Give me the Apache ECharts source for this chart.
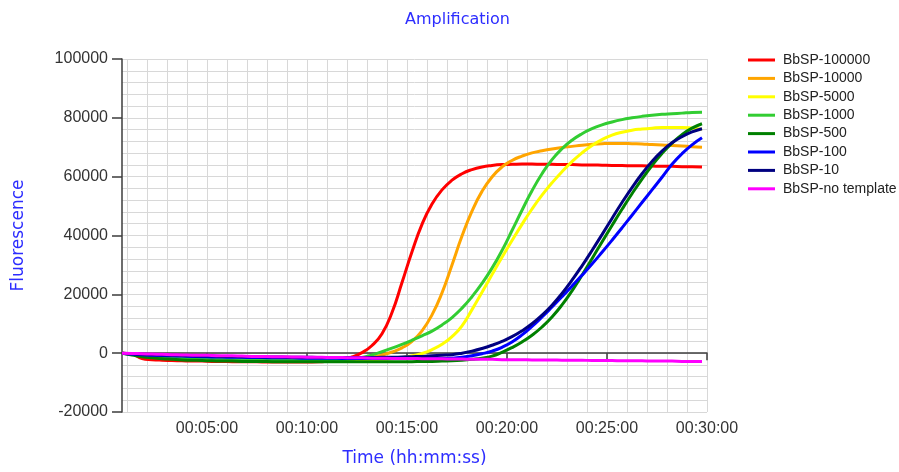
<!DOCTYPE html>
<html lang="en">
<head>
    <meta charset="UTF-8">
    <title>Amplification</title>
    <script src="https://cdn.jsdelivr.net/npm/echarts@6/dist/echarts.min.js"></script>
    <style>
        body { margin: 0; background: #fff; }
    </style>
</head>
<body>
    <div id="main" style="width:899px; height:472px;"></div>
    <script>
        // time of each reading, seconds
        var times = [45, 75, 105, 135, 165, 195, 225, 255, 285, 315, 345, 375, 405, 435, 465, 495, 525, 555, 585, 615,
            645, 675, 705, 735, 765, 795, 825, 855, 885, 915, 945, 975, 1005, 1035, 1065, 1095, 1125, 1155, 1185, 1215,
            1245, 1275, 1305, 1335, 1365, 1395, 1425, 1455, 1485, 1515, 1545, 1575, 1605, 1635, 1665, 1695, 1725, 1755, 1785];

        var names = ['BbSP-100000', 'BbSP-10000', 'BbSP-5000', 'BbSP-1000', 'BbSP-500', 'BbSP-100', 'BbSP-10', 'BbSP-no template'];
        var colors = ['#ff0000', '#ffa500', '#ffff00', '#32cd32', '#008000', '#0000ff', '#000080', '#ff00ff'];

        var s100000 = [0, -300, -1800, -2200, -2400, -2500, -2600, -2700, -2700, -2800, -2800, -2900, -2900, -2900, -3000, -3000,
            -3000, -3000, -3000, -3000, -2900, -2700, -2300, -1300, 200, 2600, 6600, 13800, 24000, 34500, 43800, 50700, 55500,
            58800, 61000, 62400, 63300, 63800, 64100, 64200, 64300, 64300, 64200, 64200, 64100, 64100, 64000, 64000, 63900,
            63800, 63800, 63700, 63700, 63600, 63500, 63500, 63400, 63400, 63300];
        var s10000 = [0, -400, -800, -1100, -1400, -1600, -1800, -1900, -2000, -2100, -2200, -2200, -2300, -2300, -2400, -2400,
            -2500, -2500, -2500, -2500, -2500, -2500, -2400, -2300, -2000, -1400, -600, 400, 1800, 4000, 7600, 13000, 20500,
            30000, 39800, 48300, 55000, 59900, 63300, 65500, 67000, 68100, 68800, 69400, 69900, 70300, 70700, 71000, 71200,
            71300, 71300, 71200, 71100, 70900, 70800, 70600, 70400, 70200, 70000];
        var s5000 = [0, -300, -600, -900, -1100, -1300, -1500, -1600, -1700, -1800, -1900, -2000, -2000, -2100, -2100, -2200,
            -2200, -2200, -2300, -2300, -2300, -2300, -2300, -2300, -2300, -2200, -2100, -1900, -1500, -900, -100, 1200, 3000,
            5600, 9300, 14800, 20700, 26700, 32600, 38300, 43800, 49000, 53700, 57900, 61700, 65100, 68100, 70600, 72600,
            74100, 75100, 75800, 76200, 76500, 76700, 76700, 76700, 76500, 76100];
        var s1000 = [0, -300, -600, -900, -1100, -1300, -1500, -1600, -1700, -1800, -1900, -2000, -2000, -2100, -2100, -2200,
            -2200, -2200, -2300, -2300, -2300, -2300, -2200, -2000, -1500, -600, 500, 1700, 3000, 4400, 5900, 7500, 9600,
            12100, 15300, 19200, 23700, 28900, 34900, 41700, 48600, 55200, 61000, 65800, 69500, 72400, 74600, 76300, 77600,
            78600, 79400, 80000, 80500, 80900, 81200, 81400, 81600, 81800, 81900];
        var s500 = [0, -600, -1200, -1600, -1900, -2100, -2300, -2400, -2500, -2600, -2700, -2700, -2800, -2800, -2800, -2900,
            -2900, -2900, -2900, -2900, -2900, -2900, -2900, -2900, -2900, -2900, -2900, -2900, -2900, -2900, -2800, -2800, -2700,
            -2600, -2400, -2100, -1700, -1000, 300, 1900, 3800, 6100, 8900, 12300, 16400, 21200, 26500, 32100, 37800,
            43400, 48900, 54200, 59200, 63800, 67900, 71400, 74300, 76500, 78000];
        var s100 = [0, -300, -500, -700, -800, -900, -1000, -1100, -1200, -1300, -1300, -1400, -1400, -1500, -1500, -1600,
            -1600, -1600, -1700, -1700, -1700, -1700, -1800, -1800, -1800, -1800, -1800, -1800, -1800, -1800, -1800, -1800, -1800,
            -1700, -1400, -900, -200, 700, 2000, 3800, 6200, 9100, 12300, 15700, 19200, 22800, 26500, 30300, 34300,
            38400, 42600, 46900, 51200, 55500, 59800, 64200, 67800, 70800, 73200];
        var s10 = [0, -200, -400, -500, -600, -700, -800, -900, -1000, -1000, -1100, -1100, -1200, -1200, -1300, -1300,
            -1300, -1400, -1400, -1400, -1500, -1500, -1500, -1500, -1500, -1500, -1400, -1400, -1300, -1200, -1100, -900, -700,
            -500, 0, 700, 1600, 2700, 4000, 5600, 7600, 10000, 12900, 16300, 20300, 24800, 29700, 34900, 40300,
            45800, 51200, 56300, 61000, 65200, 68700, 71500, 73600, 75200, 76300];
        var sNone = [0, -100, -200, -300, -400, -500, -600, -700, -700, -800, -900, -900, -1000, -1100, -1100, -1200,
            -1200, -1300, -1300, -1400, -1400, -1500, -1500, -1600, -1600, -1700, -1700, -1800, -1800, -1800, -1900, -1900, -1900,
            -2000, -2000, -2100, -2100, -2100, -2200, -2200, -2200, -2300, -2300, -2300, -2400, -2400, -2400, -2500, -2500,
            -2500, -2600, -2600, -2600, -2700, -2700, -2700, -2800, -2800, -2800];

        var values = [s100000, s10000, s5000, s1000, s500, s100, s10, sNone];

        // axis ticks, seconds
        var xLabelTicks = [300, 600, 900, 1200, 1500, 1800];
        var xGridTicks = [60, 120, 180, 240, 300, 360, 420, 480, 540, 600, 660, 720, 780, 840, 900, 960, 1020, 1080, 1140, 1200,
            1260, 1320, 1380, 1440, 1500, 1560, 1620, 1680, 1740, 1800];

        function hms(v) {
            var h = Math.floor(v / 3600), m = Math.floor(v % 3600 / 60), s = Math.round(v % 60);
            function p(n) { return (n < 10 ? '0' : '') + n; }
            return p(h) + ':' + p(m) + ':' + p(s);
        }

        var blue = '#2d2dff';
        var gridColor = '#d8d8d8';
        var axisColor = '#3c3c3c';

        var series = [];
        for (var i = 0; i < names.length; i++) {
            var pts = [];
            for (var j = 0; j < times.length; j++) pts.push([times[j], values[i][j]]);
            series.push({
                name: names[i],
                type: 'line',
                data: pts,
                smooth: 0.5,
                showSymbol: false,
                color: colors[i],
                lineStyle: { width: 3, color: colors[i] }
            });
        }

        var myChart = echarts.init(document.getElementById('main'));
        var option = {
            animation: false,
            title: {
                text: 'Amplification',
                left: 400,
                top: 7,
                textStyle: { color: blue, fontFamily: 'DejaVu Sans', fontSize: 16, fontWeight: 'normal' }
            },
            legend: {
                orient: 'vertical',
                left: 743,
                top: 48,
                itemWidth: 27,
                itemHeight: 3,
                itemGap: 4.4,
                icon: 'rect',
                data: names,
                textStyle: { color: '#222', fontFamily: 'Liberation Sans', fontSize: 14, lineHeight: 14, padding: [0, 0, 0, 3] }
            },
            grid: { left: 122, right: 192, top: 59, bottom: 55 },
            xAxis: [
                {
                    type: 'value',
                    min: 45,
                    max: 1800,
                    name: 'Time (hh:mm:ss)',
                    nameLocation: 'middle',
                    nameGap: 38,
                    nameTextStyle: { color: blue, fontFamily: 'DejaVu Sans', fontSize: 17 },
                    axisLine: { show: true, lineStyle: { color: axisColor, width: 1.5 } },
                    axisTick: { show: true, length: 7, customValues: xLabelTicks, lineStyle: { color: axisColor, width: 1.5 } },
                    axisLabel: {
                        customValues: xLabelTicks,
                        margin: 9,
                        color: '#333',
                        fontFamily: 'Liberation Sans',
                        fontSize: 16,
                        formatter: hms
                    },
                    splitLine: { show: false }
                },
                {
                    type: 'value',
                    min: 45,
                    max: 1800,
                    position: 'bottom',
                    axisLine: { show: false },
                    axisTick: { show: false, customValues: xGridTicks },
                    axisLabel: { show: false, customValues: xGridTicks },
                    splitLine: { show: true, lineStyle: { color: gridColor, width: 1 } }
                }
            ],
            yAxis: {
                type: 'value',
                min: -20000,
                max: 100000,
                interval: 20000,
                name: 'Fluorescence',
                nameLocation: 'middle',
                nameGap: 95,
                nameTextStyle: { color: blue, fontFamily: 'DejaVu Sans', fontSize: 17 },
                axisLine: { show: true, lineStyle: { color: axisColor, width: 1.5 } },
                axisTick: { show: true, length: 10, lineStyle: { color: axisColor, width: 1.5 } },
                axisLabel: {
                    margin: 14,
                    color: '#333',
                    fontFamily: 'Liberation Sans',
                    fontSize: 16,
                    formatter: function (v) { return String(v); }
                },
                splitLine: { show: true, lineStyle: { color: gridColor, width: 1 } },
                minorTick: { show: false, splitNumber: 5 },
                minorSplitLine: { show: true, lineStyle: { color: gridColor, width: 1 } }
            },
            series: series
        };
        myChart.setOption(option);
    </script>
</body>
</html>
